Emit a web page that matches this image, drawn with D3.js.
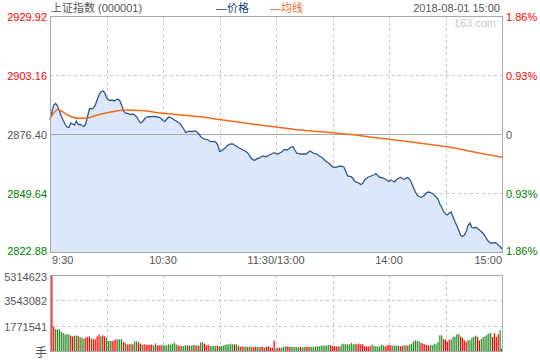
<!DOCTYPE html>
<html><head><meta charset="utf-8">
<script src="https://cdn.jsdelivr.net/npm/d3@7"></script>
<style>body{margin:0;background:#fff}svg{display:block}</style>
</head><body><svg id="c" width="540" height="360"></svg>
<script>
const title = "上证指数 (000001)";
const legendNames = ["价格", "均线"];
const dateText = "2018-08-01 15:00";
const timeTicks = [0, 60, 120, 180, 240];
const timeLabels = ["9:30", "10:30", "11:30/13:00", "14:00", "15:00"];
const gridMinutes = [30, 60, 90, 120, 150, 180, 210];
const prevClose = 2876.40;
const priceTicks = [2929.92, 2903.16, 2876.40, 2849.64, 2822.88];
const pctLabels = ["1.86%", "0.93%", "0", "0.93%", "1.86%"];
const volTicks = [5314623, 3543082, 1771541];
const volUnit = "手";

const price = [
2882.75,2886.38,2889.55,2890.23,2889.10,2886.83,2884.56,2882.52,2880.94,2879.58,
2879.35,2881.39,2880.94,2880.48,2882.30,2880.71,2880.71,2880.26,2879.80,2880.94,
2884.56,2887.97,2887.74,2888.19,2889.33,2891.82,2894.09,2895.45,2895.90,2895.22,
2892.96,2891.82,2891.60,2891.82,2891.37,2891.82,2892.28,2891.60,2889.55,2886.83,
2885.93,2885.70,2885.47,2885.25,2885.47,2885.02,2884.11,2882.75,2881.39,2881.84,
2882.98,2883.88,2884.25,2884.11,2884.34,2884.25,2884.34,2884.11,2883.98,2883.43,
2882.52,2882.07,2883.20,2884.11,2883.88,2883.43,2882.75,2882.30,2881.62,2881.16,
2880.03,2878.67,2877.08,2877.31,2877.76,2877.53,2877.53,2877.90,2877.31,2876.40,
2875.27,2874.45,2874.13,2873.91,2873.68,2873.00,2872.91,2873.00,2872.77,2871.64,
2868.46,2868.69,2869.37,2870.05,2870.96,2871.64,2871.86,2871.86,2871.41,2870.73,
2870.28,2869.82,2869.37,2868.92,2868.46,2867.78,2866.42,2865.29,2864.61,2864.61,
2865.29,2865.38,2865.97,2866.42,2866.19,2866.19,2866.65,2867.10,2867.55,2867.92,
2867.55,2867.33,2867.78,2868.24,2869.14,2869.37,2869.14,2869.82,2870.50,2870.64,
2869.14,2867.78,2867.46,2867.33,2867.33,2867.33,2867.33,2868.01,2868.69,2868.24,
2867.65,2867.46,2867.10,2866.42,2865.97,2865.29,2864.38,2863.70,2863.25,2862.34,
2861.43,2861.30,2861.30,2861.66,2861.88,2861.75,2861.43,2859.62,2857.35,2857.21,
2857.03,2855.99,2854.85,2854.49,2854.17,2853.49,2853.95,2855.53,2856.21,2856.90,
2857.12,2857.58,2857.80,2858.48,2857.58,2856.76,2856.67,2856.44,2855.99,2855.31,
2854.85,2855.53,2855.08,2854.63,2855.76,2856.21,2856.76,2856.21,2855.85,2856.44,
2856.67,2855.85,2854.17,2851.91,2850.09,2848.73,2848.05,2847.69,2848.05,2848.73,
2849.86,2850.09,2849.86,2849.41,2848.73,2847.82,2846.92,2844.65,2843.06,2841.25,
2840.11,2839.66,2840.57,2841.02,2838.75,2836.71,2834.90,2832.85,2830.59,2829.91,
2830.59,2832.18,2834.90,2836.03,2833.99,2833.76,2834.08,2833.54,2832.85,2832.18,
2831.27,2830.13,2828.55,2827.55,2826.96,2826.96,2827.10,2826.96,2826.05,2825.37,
2824.24];

const avgMinute = [0,2,4,6,10,15,20,25,30,40,50,60,70,80,90,100,110,120,130,140,150,160,170,180,190,200,210,220,230,240];
const avgPrice = [2883.43,2885.93,2887.51,2886.83,2884.79,2883.52,2883.66,2885.02,2885.93,2887.29,2886.92,2885.79,2885.02,2884.20,2882.98,2881.84,2880.57,2879.58,2878.44,2877.67,2876.99,2876.13,2875.04,2874.00,2873.00,2871.86,2870.68,2869.14,2867.46,2865.83];

const volume = [
1329000,5314623,1725000,1515000,1515000,1515000,1329000,1259000,1166000,1166000,
1166000,1072000,1026000,1072000,1072000,1072000,979000,932000,862000,932000,
979000,1026000,862000,816000,816000,1026000,1166000,1026000,1096000,1026000,
932000,699000,699000,699000,746000,816000,816000,816000,816000,629000,
583000,466000,466000,513000,466000,676000,676000,606000,513000,420000,
466000,443000,443000,443000,443000,396000,536000,396000,396000,396000,
443000,396000,396000,466000,443000,513000,583000,466000,396000,373000,
350000,350000,396000,396000,373000,373000,420000,396000,396000,373000,
606000,606000,513000,396000,443000,350000,350000,350000,350000,373000,
326000,373000,373000,420000,466000,466000,513000,466000,466000,466000,
373000,303000,326000,303000,303000,280000,303000,303000,256000,303000,
303000,280000,303000,280000,256000,280000,326000,233000,233000,746000,
163000,210000,233000,233000,280000,326000,326000,280000,303000,280000,
280000,280000,256000,280000,256000,280000,303000,280000,303000,280000,
280000,326000,326000,326000,373000,373000,396000,373000,420000,396000,
350000,326000,326000,326000,326000,466000,513000,466000,466000,466000,
559000,466000,513000,466000,513000,466000,466000,326000,326000,326000,
326000,443000,350000,326000,326000,326000,443000,396000,326000,396000,
443000,396000,373000,373000,373000,373000,326000,350000,396000,396000,
373000,466000,513000,676000,746000,699000,653000,559000,513000,466000,
420000,373000,420000,396000,513000,466000,629000,1096000,1096000,816000,
816000,653000,793000,793000,1002000,1002000,1166000,1166000,1002000,932000,
746000,629000,793000,746000,932000,1002000,1072000,979000,746000,839000,
979000,1026000,1142000,1212000,1259000,979000,1259000,979000,1166000,1445000,
163000];

const volUp = [
1,1,1,0,0,0,0,0,0,0, 0,1,1,0,0,1,0,0,0,1, 1,1,0,1,1,1,1,0,1,1,
0,0,0,1,1,1,0,0,0,1, 0,1,1,0,1,0,0,1,1,0, 1,1,1,1,1,0,0,1,1,1,
0,0,0,0,0,0,0,0,1,1, 0,0,0,0,1,0,0,1,0,1, 0,0,1,1,1,0,0,0,0,1,
0,0,0,0,0,0,0,0,1,0, 0,1,1,0,0,1,0,0,1,1, 0,0,1,1,0,1,1,1,1,1,
0,1,1,0,0,0,1,1,0,0, 0,0,0,1,0,0,1,1,0,0, 0,0,0,0,0,0,0,0,0,1,
1,1,1,1,0,0,0,0,0,0, 0,0,0,1,1,1,1,1,1,1, 1,0,0,0,0,0,0,0,1,1,
1,1,0,0,0,0,1,1,0,0, 1,0,0,0,0,0,0,1,1,1, 1,1,0,0,0,0,0,0,0,1,
1,1,1,0,0,0,0,0,1,1, 1,1,0,0,0,0,0,1,1,0, 0,0,0,0,0,1,1,1,1,0,
0];

const svg = d3.select("#c");
const font = "'Liberation Sans','Noto Sans CJK SC',sans-serif";
const L = 50, R = 502, T = 16, B = 252, VT = 275, VB = 351;
const RED = "#ff0000", GREEN = "#008000", GRAY = "#555";

const x = d3.scaleLinear().domain([0, 240]).range([L, R]);
const y = d3.scaleLinear().domain([priceTicks[4], priceTicks[0]]).range([B, T]);
const yv = d3.scaleLinear().domain([0, volTicks[0]]).range([VB, VT]);

// grids
const grid = svg.append("g").attr("stroke", "#c8c8c8").attr("stroke-dasharray", "3,3").attr("shape-rendering", "crispEdges");
[priceTicks[1], priceTicks[3]].forEach(v => grid.append("line").attr("x1", L).attr("x2", R).attr("y1", Math.round(y(v)) + 0.5).attr("y2", Math.round(y(v)) + 0.5));
volTicks.slice(1).forEach(v => grid.append("line").attr("x1", L).attr("x2", R).attr("y1", Math.round(yv(v)) + 0.5).attr("y2", Math.round(yv(v)) + 0.5));
gridMinutes.forEach(m => {
  const gx = Math.round(x(m)) + 0.5;
  grid.append("line").attr("x1", gx).attr("x2", gx).attr("y1", T).attr("y2", B);
  grid.append("line").attr("x1", gx).attr("x2", gx).attr("y1", VT).attr("y2", VB);
});

// area + line
const area = d3.area().x((d, i) => x(i)).y0(B).y1(d => y(d));
svg.append("path").datum(price).attr("d", area).attr("fill", "#dce8fa");
svg.append("line").attr("x1", L).attr("x2", R).attr("y1", Math.round(y(prevClose)) + 0.5).attr("y2", Math.round(y(prevClose)) + 0.5)
  .attr("stroke", "#a8a8a8").attr("shape-rendering", "crispEdges");
const line = d3.line().x((d, i) => x(i)).y(d => y(d));
svg.append("path").datum(price).attr("d", line).attr("fill", "none").attr("stroke", "#34568a").attr("stroke-width", 1.3);
const avgLine = d3.line().x(d => x(d[0])).y(d => y(d[1])).curve(d3.curveMonotoneX);
svg.append("path").datum(avgMinute.map((m, i) => [m, avgPrice[i]])).attr("d", avgLine)
  .attr("fill", "none").attr("stroke", "#f26b1d").attr("stroke-width", 1.5);

// volume bars
svg.append("g").selectAll("rect").data(volume).join("rect")
  .attr("x", (d, i) => Math.min(Math.max(x(i) - 0.6, L), R - 1.2)).attr("width", 1.2)
  .attr("y", d => yv(d)).attr("height", d => VB - yv(d))
  .attr("fill", (d, i) => volUp[i] ? RED : "#228b22");

// frames
const frame = svg.append("g").attr("fill", "none").attr("stroke", "#a8a8a8").attr("shape-rendering", "crispEdges");
frame.append("rect").attr("x", L + 0.5).attr("y", T + 0.5).attr("width", R - L).attr("height", B - T);
frame.append("rect").attr("x", L + 0.5).attr("y", VT + 0.5).attr("width", R - L).attr("height", VB - VT);

// left/right labels
const fs = 11;
const tcol = (i) => i < 2 ? RED : (i === 2 ? GRAY : GREEN);
priceTicks.forEach((v, i) => {
  const ty = Math.max(17, Math.min(251, y(v) + 1));
  svg.append("text").attr("x", 47).attr("y", ty).attr("text-anchor", "end").attr("dominant-baseline", "central")
    .attr("font-family", font).attr("font-size", fs).attr("fill", tcol(i)).text(v.toFixed(2));
  svg.append("text").attr("x", 506).attr("y", ty).attr("text-anchor", "start").attr("dominant-baseline", "central")
    .attr("font-family", font).attr("font-size", fs).attr("fill", tcol(i)).text(pctLabels[i]);
});
volTicks.forEach(v => {
  svg.append("text").attr("x", 47).attr("y", Math.max(277, yv(v) + 1)).attr("text-anchor", "end").attr("dominant-baseline", "central")
    .attr("font-family", font).attr("font-size", fs).attr("fill", GRAY).text(v);
});
svg.append("text").attr("x", 47).attr("y", 357).attr("text-anchor", "end")
  .attr("font-family", font).attr("font-size", 12).attr("fill", GRAY).text(volUnit);

// time labels
timeTicks.forEach((m, i) => {
  const anchor = i === 0 ? "start" : (i === timeTicks.length - 1 ? "end" : "middle");
  svg.append("text").attr("x", i === 0 ? x(m) + 2 : x(m)).attr("y", 264).attr("text-anchor", anchor)
    .attr("font-family", font).attr("font-size", fs).attr("fill", GRAY).text(timeLabels[i]);
});

// header
svg.append("text").attr("x", 51).attr("y", 12).attr("font-family", font).attr("font-size", fs).attr("fill", GRAY).text(title);
svg.append("text").attr("x", 216).attr("y", 12).attr("font-family", font).attr("font-size", fs).attr("fill", "#1f3f77").text("—" + legendNames[0]);
svg.append("text").attr("x", 270).attr("y", 12).attr("font-family", font).attr("font-size", fs).attr("fill", "#f26b1d").text("—" + legendNames[1]);
svg.append("text").attr("x", 500).attr("y", 12).attr("text-anchor", "end").attr("font-family", font).attr("font-size", fs).attr("fill", GRAY).text(dateText);
svg.append("text").attr("x", 496).attr("y", 27).attr("text-anchor", "end").attr("font-family", font).attr("font-size", fs).attr("fill", "#c8c8c8").text("163.com");
</script></body></html>
